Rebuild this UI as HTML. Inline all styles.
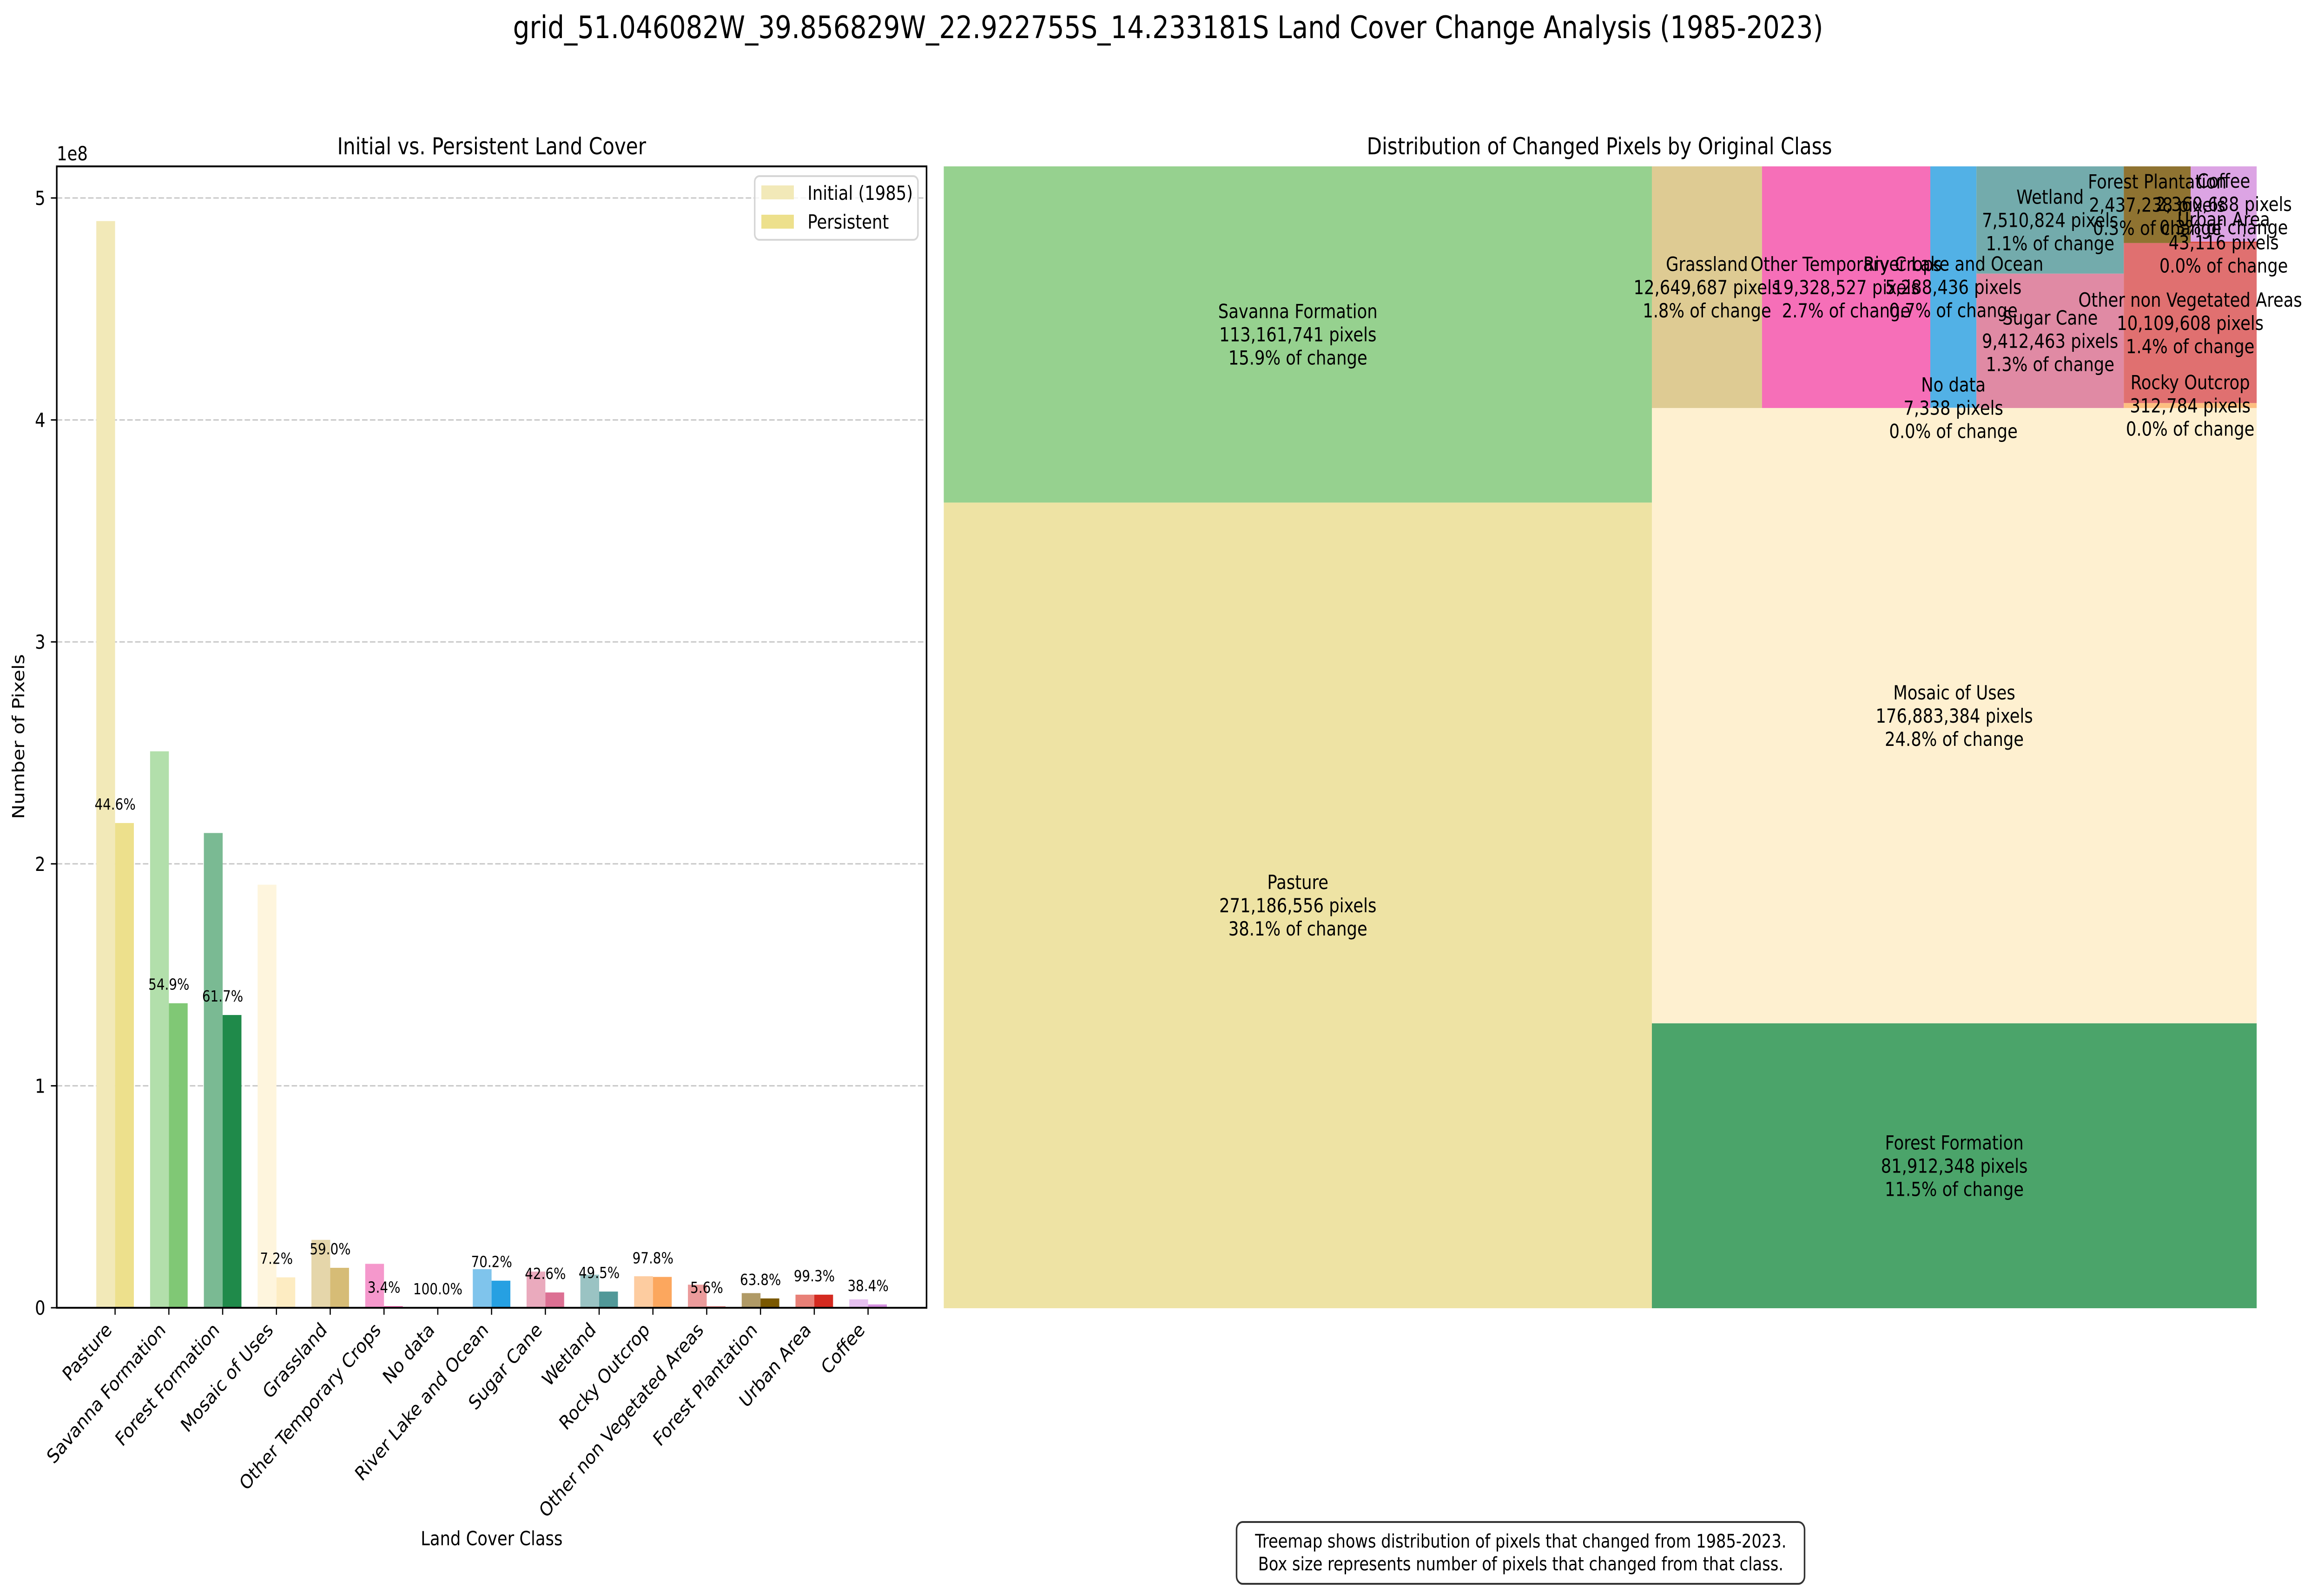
<!DOCTYPE html>
<html><head><meta charset="utf-8"><title>Land Cover Change Analysis</title>
<style>
html,body{margin:0;padding:0;background:#fff;width:100%;height:100%;overflow:hidden;}
svg{display:block;position:absolute;left:0;top:0;width:100vw;height:100vh;font-family:"DejaVu Sans","Liberation Sans",sans-serif;}
</style></head>
<body>
<svg id="fig" xmlns="http://www.w3.org/2000/svg" viewBox="0 0 5937 3417" preserveAspectRatio="none">
  <rect x="0" y="0" width="5937" height="3417" fill="#fff"/>
  <text x="2984" y="82" font-size="67" text-anchor="middle">grid_51.046082W_39.856829W_22.922755S_14.233181S Land Cover Change Analysis (1985-2023)</text>

  <g id="bar-chart">
    <text x="1256" y="332" font-size="50" text-anchor="middle">Initial vs. Persistent Land Cover</text>
    <g id="grid"></g>
    <g id="bars"></g>
    <g id="pct"></g>
    <rect x="145" y="358" width="2222" height="2456" fill="none" stroke="#000" stroke-width="4"/>
    <g id="yticks"></g>
    <g id="xticks"></g>
    <text x="145" y="345" font-size="42">1e8</text>
    <text transform="translate(62,1585) rotate(-90)" font-size="42" text-anchor="middle">Number of Pixels</text>
    <text x="1256" y="3325" font-size="42" text-anchor="middle">Land Cover Class</text>
    <g>
      <rect x="1928" y="379" width="417" height="137" rx="12" fill="#fff" fill-opacity="0.8" stroke="#d6d6d6" stroke-width="4"/>
      <rect x="1945" y="399" width="83" height="30" fill="#f2e9b8"/>
      <text x="2063" y="430" font-size="42">Initial (1985)</text>
      <rect x="1945" y="462" width="83" height="30" fill="#ede08c"/>
      <text x="2063" y="492" font-size="42">Persistent</text>
    </g>
  </g>

  <g id="treemap">
    <text x="4086" y="332" font-size="50" text-anchor="middle">Distribution of Changed Pixels by Original Class</text>
    <g id="tm-rects"></g>
    <g id="tm-labels"></g>
    <g>
      <rect x="3159" y="3275" width="1451" height="133" rx="16" fill="#fff" stroke="#333" stroke-width="4"/>
      <text x="3885" y="3330" font-size="40" text-anchor="middle">Treemap shows distribution of pixels that changed from 1985-2023.</text>
      <text x="3885" y="3379" font-size="40" text-anchor="middle">Box size represents number of pixels that changed from that class.</text>
    </g>
  </g>
</svg>
<script>
// ---------- Bar chart data ----------
const categories = ["Pasture","Savanna Formation","Forest Formation","Mosaic of Uses","Grassland","Other Temporary Crops","No data","River Lake and Ocean","Sugar Cane","Wetland","Rocky Outcrop","Other non Vegetated Areas","Forest Plantation","Urban Area","Coffee"];
const initialValues = [4.896e8,2.507e8,2.139e8,1.906e8,0.306e8,0.198e8,0.00007e8,0.174e8,0.163e8,0.149e8,0.142e8,0.104e8,0.066e8,0.059e8,0.038e8];
const persistentValues = [2.184e8,1.372e8,1.319e8,0.137e8,0.180e8,0.007e8,0.0,0.122e8,0.069e8,0.073e8,0.139e8,0.006e8,0.042e8,0.059e8,0.015e8];
const percentLabels = ["44.6%","54.9%","61.7%","7.2%","59.0%","3.4%","100.0%","70.2%","42.6%","49.5%","97.8%","5.6%","63.8%","99.3%","38.4%"];
const yTicks = [0,1,2,3,4,5];
const initialColors = ["#f2e9b8","#b2dfab","#7aba93","#fef5dd","#e5d6aa","#f598cc","#dddddd","#7fc4ec","#eaaabd","#9ac3c3","#fdcca0","#eb9b9b","#b09a66","#e88077","#e6c0f0"];
const persistentColors = ["#ede08c","#80c875","#1f8a4a","#fdecc2","#d6bc76","#ec4ea3","#bbbbbb","#26a0e2","#dc7093","#519898","#fca75e","#dc4c4c","#7a5800","#d42a20","#d590e0"];

// ---------- Treemap data ----------
const tmNames = ["Pasture","Savanna Formation","Forest Formation","Mosaic of Uses","Grassland","Other Temporary Crops","No data","River Lake and Ocean","Sugar Cane","Wetland","Rocky Outcrop","Other non Vegetated Areas","Forest Plantation","Urban Area","Coffee"];
const tmValues = [271186556,113161741,81912348,176883384,12649687,19328527,7338,5288436,9412463,7510824,312784,10109608,2437238,43116,2360688];
const tmColors = ["#eee3a4","#96d18f","#4ba46a","#fef0d0","#decb93","#f66fb8","#dddddd","#52b1e6","#e08aa4","#73abac","#fdbf80","#e07070","#8f7331","#d94a40","#dca4e4"];

const NS = "http://www.w3.org/2000/svg";
function mk(tag, attrs, parent){ const e=document.createElementNS(NS,tag); for(const k in attrs) e.setAttribute(k,attrs[k]); parent.appendChild(e); return e; }

const X0 = 294, XSTEP = 137.4, BW = 48;
function xPos(i){ return X0 + i*XSTEP; }
const Y0 = 2814, YPX = 477.6;
function yPos(v){ return Y0 - v/1e8*YPX; }

const gGrid=document.getElementById('grid'), gBars=document.getElementById('bars'), gPct=document.getElementById('pct');
const gY=document.getElementById('yticks'), gX=document.getElementById('xticks');

yTicks.forEach(t=>{
  const y=yPos(t*1e8);
  if(t>0){
    const l=mk('line',{x1:145,x2:2367,y1:y,y2:y,stroke:'#c8c8c8','stroke-width':3,'stroke-dasharray':'14 6'},gGrid);
    
    
  }
  const tk=mk('line',{x1:130,x2:145,y1:y,y2:y,stroke:'#000','stroke-width':3},gY);
  
  
  const tx=mk('text',{x:116,y:y+15,'font-size':42,'text-anchor':'end'},gY);
  tx.textContent=String(t);
  
  
});

categories.forEach((c,i)=>{
  const cx=xPos(i);
  const yi=yPos(initialValues[i]);
  const r1=mk('rect',{x:cx-BW,y:yi,width:BW,height:Y0-yi,fill:initialColors[i]},gBars);
  
  
  const yp=yPos(persistentValues[i]);
  const r2=mk('rect',{x:cx,y:yp,width:BW,height:Y0-yp,fill:persistentColors[i]},gBars);
  
  
  const pt=mk('text',{x:cx,y:yp-29,'font-size':33,'text-anchor':'middle'},gPct);
  pt.textContent=percentLabels[i];
  
  
  const tk=mk('line',{x1:cx,x2:cx,y1:Y0,y2:Y0+15,stroke:'#000','stroke-width':3},gX);
  
  
  const lx=cx-6, ly=2864;
  const tl=mk('text',{transform:'translate('+lx+','+ly+') rotate(-45)','font-size':42,'text-anchor':'end'},gX);
  tl.textContent=c;
  
  
});

// ---------- squarify ----------
function layoutrow(s,x,y,dx,dy){const a=s.reduce((p,q)=>p+q,0),w=a/dy,r=[];for(const v of s){r.push({x:x,y:y,dx:w,dy:v/w});y+=v/w;}return r;}
function layoutcol(s,x,y,dx,dy){const a=s.reduce((p,q)=>p+q,0),h=a/dx,r=[];for(const v of s){r.push({x:x,y:y,dx:v/h,dy:h});x+=v/h;}return r;}
function layout(s,x,y,dx,dy){return dx>=dy?layoutrow(s,x,y,dx,dy):layoutcol(s,x,y,dx,dy);}
function leftover(s,x,y,dx,dy){const a=s.reduce((p,q)=>p+q,0);if(dx>=dy){const w=a/dy;return [x+w,y,dx-w,dy];}const h=a/dx;return [x,y+h,dx,dy-h];}
function worst(s,x,y,dx,dy){return Math.max(...layout(s,x,y,dx,dy).map(r=>Math.max(r.dx/r.dy,r.dy/r.dx)));}
function squarify(s,x,y,dx,dy){
  if(s.length===0)return [];
  if(s.length===1)return layout(s,x,y,dx,dy);
  let i=1;
  while(i<s.length && worst(s.slice(0,i),x,y,dx,dy)>=worst(s.slice(0,i+1),x,y,dx,dy)) i++;
  const cur=s.slice(0,i), rem=s.slice(i);
  const lo=leftover(cur,x,y,dx,dy);
  return layout(cur,x,y,dx,dy).concat(squarify(rem,lo[0],lo[1],lo[2],lo[3]));
}
const total = tmValues.reduce((a,b)=>a+b,0);
const norm = tmValues.map(v=>v*10000/total);
const rects = squarify(norm,0,0,100,100);
const TX=2411, TY=358, TW=3354, TH=2457;
function tmX(v){return TX+v/100*TW;}
function tmY(v){return TY+TH-v/100*TH;}
const gR=document.getElementById('tm-rects'), gL=document.getElementById('tm-labels');
function fmt(n){return n.toString().replace(/\B(?=(\d{3})+(?!\d))/g,',');}
rects.forEach((r,i)=>{
  const x=tmX(r.x), y=tmY(r.y+r.dy), w=tmX(r.x+r.dx)-x, h=tmY(r.y)-y;
  const re=mk('rect',{x:x,y:y,width:Math.max(w,0),height:Math.max(h,0),fill:tmColors[i]},gR);
  
  
  const cx=x+w/2, cy=y+h/2;
  const lines=[tmNames[i], fmt(tmValues[i])+' pixels', (tmValues[i]/total*100).toFixed(1)+'% of change'];
  const t=mk('text',{x:cx,y:cy-50+15,'font-size':42,'text-anchor':'middle'},gL);
  
  
  lines.forEach((ln,k)=>{const s=mk('tspan',{x:cx,dy:k===0?0:50},t);s.textContent=ln;});
});
</script>
</body></html>
